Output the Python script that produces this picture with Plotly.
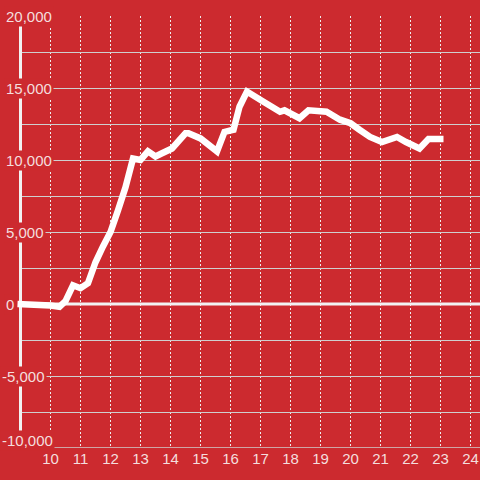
import plotly.graph_objects as go

# hours of the day and running value
hours = [8.9, 9.5, 10.0, 10.3, 10.5, 10.75, 11.0, 11.25, 11.5, 11.75, 12.0, 12.25,
         12.5, 12.75, 13.0, 13.25, 13.5, 13.7, 14.05, 14.5, 14.6, 15.0, 15.3, 15.55,
         15.8, 16.1, 16.3, 16.55, 17.1, 17.65, 17.8, 18.3, 18.6, 19.0, 19.2, 19.65,
         20.0, 20.3, 20.65, 21.05, 21.55, 21.85, 22.3, 22.6, 23.1]
values = [0, 0, -100, -200, 200, 1300, 1100, 1450, 2900, 4000, 5000, 6500,
          8100, 10100, 10000, 10600, 10250, 10450, 10800, 11850, 11850, 11500, 11050, 10600,
          11950, 12100, 13700, 14750, 14050, 13350, 13450, 12900, 13450, 13400, 13350, 12800,
          12550, 12100, 11600, 11250, 11600, 11250, 10800, 11450, 11450]

y_ticks = [20000, 15000, 10000, 5000, 0, -5000, -10000]
x_ticks = list(range(10, 25))

BG = '#cc2a2f'
TXT = '#f4dede'
GRID = '#cfcfcf'
FONT = 'Liberation Sans, Arial, sans-serif'
X_MIN, X_MAX = 8.3167, 24.3167
Y_MIN, Y_MAX = -10000, 20000
AXIS_X = 9.0

fig = go.Figure()

fig.add_trace(go.Scatter(
    x=hours, y=values,
    mode='lines',
    line=dict(color='white', width=6.5),
    hoverinfo='skip',
    showlegend=False
))

# hide gridlines left of the axis bar
fig.add_shape(type='rect', xref='x', yref='y', layer='between',
              x0=X_MIN, x1=AXIS_X, y0=Y_MIN, y1=Y_MAX,
              fillcolor=BG, line=dict(width=0))
# bottom gridline (range edge)
fig.add_shape(type='line', xref='x', yref='y', layer='between',
              x0=AXIS_X, x1=X_MAX, y0=Y_MIN, y1=Y_MIN,
              line=dict(color=GRID, width=1.5))
# axis bar
fig.add_shape(type='line', xref='x', yref='y', layer='between',
              x0=AXIS_X, x1=AXIS_X, y0=Y_MIN, y1=Y_MAX,
              line=dict(color='#f2f2f2', width=3))
# zero line
fig.add_shape(type='line', xref='x', yref='y', layer='between',
              x0=AXIS_X, x1=X_MAX, y0=0, y1=0,
              line=dict(color='#f2f2f2', width=3))

for v in y_ticks:
    fig.add_annotation(
        x=0, xref='paper', y=v, yref='y',
        text=f"{v:,}",
        showarrow=False,
        xanchor='left',
        yanchor='bottom' if v == Y_MIN else 'middle',
        xshift=0 if v < 0 else 4,
        yshift=-3 if v == Y_MIN else 0,
        bgcolor=BG,
        font=dict(color=TXT, size=15, family=FONT)
    )

fig.update_xaxes(
    range=[X_MIN, X_MAX],
    tickvals=x_ticks,
    ticktext=[str(t) for t in x_ticks],
    showgrid=True, gridcolor='#eeeeee', gridwidth=1, griddash='2px,2px',
    zeroline=False, showline=False,
    tickfont=dict(color=TXT, size=15, family=FONT),
    fixedrange=True
)
fig.update_yaxes(
    range=[Y_MIN, Y_MAX],
    dtick=2500,
    showgrid=True, gridcolor=GRID, gridwidth=1,
    zeroline=False, showline=False,
    showticklabels=False,
    fixedrange=True
)

fig.update_layout(
    width=480, height=480,
    margin=dict(l=0, r=0, t=16, b=32),
    paper_bgcolor=BG,
    plot_bgcolor=BG,
    showlegend=False
)

fig.write_html("out.html", config={'displayModeBar': False},
               post_script="document.body.style.margin='0';")
